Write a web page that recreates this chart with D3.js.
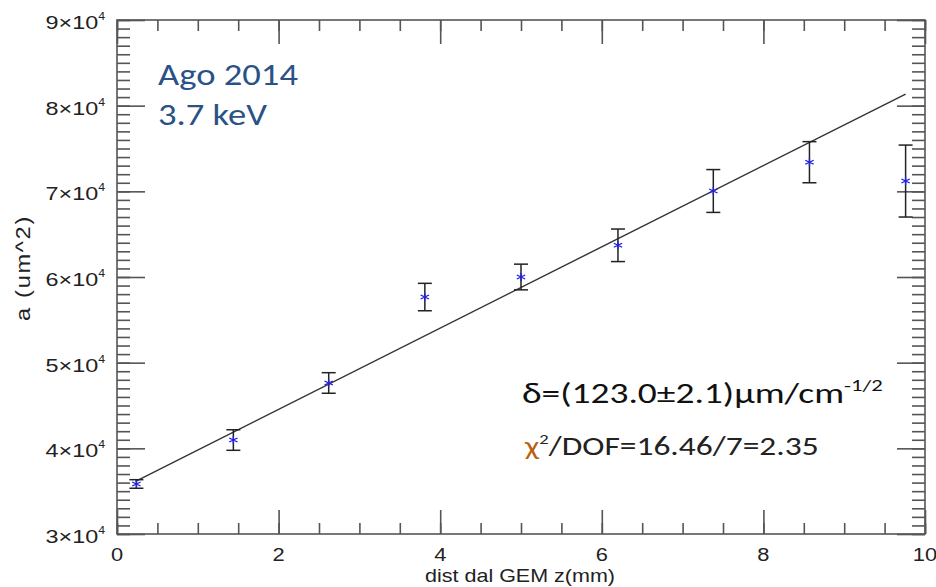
<!DOCTYPE html>
<html>
<head>
<meta charset="utf-8">
<script src="https://cdn.jsdelivr.net/npm/d3@7"></script>
<style>
body { margin: 0; background: #fff; }
</style>
</head>
<body>
<div id="chart"></div>
<script>
var W = 936, H = 587;
var margin = {left: 117, right: 11, top: 20, bottom: 53};

// data
var distZ = [0.24, 1.44, 2.62, 3.81, 5.0, 6.2, 7.38, 8.57, 9.76];
var aVal = [35840, 40970, 47630, 57660, 60000, 63700, 70040, 73400, 71200];
var aErr = [500, 1200, 1200, 1600, 1500, 1900, 2500, 2400, 4200];

// fitted line end points
var fitX = [0.23, 9.76];
var fitY = [36150, 81360];

var xTicks = [0, 2, 4, 6, 8, 10];
var yTicks = [3, 4, 5, 6, 7, 8, 9];

var svg = d3.select("#chart").append("svg")
	.attr("width", W)
	.attr("height", H);

var x = d3.scaleLinear().domain([0, 10]).range([margin.left, W - margin.right]);
var y = d3.scaleLinear().domain([30000, 90000]).range([H - margin.bottom, margin.top]);

var axisCol = "#555";

function styleAxis(g) {
	g.select(".domain").remove();
	g.selectAll("line").attr("stroke", axisCol).attr("stroke-width", 1.6);
	g.selectAll("text").remove();
}

// the picture is stretched sideways, so squeeze/stretch each text to the measured width
function place(t, px, py, w, rot, sy) {
	var bw = t.node().getBBox().width;
	var sx = w / bw;
	t.attr("transform", "translate(" + px + "," + py + ")" + (rot ? " rotate(" + rot + ")" : "") +
		" scale(" + sx + "," + (sy || 1) + ")");
}

// minor + major ticks on all four sides, pointing inward
var xMinor = d3.range(0, 10.01, 0.5);
var yMinor = d3.range(30000, 90001, 1000);
var yMajor = yTicks.map(function (d) { return d * 10000; });

svg.append("g").attr("transform", "translate(0," + y.range()[0] + ")")
	.call(d3.axisBottom(x).tickValues(xMinor).tickSize(-11)).call(styleAxis);
svg.append("g").attr("transform", "translate(0," + y.range()[0] + ")")
	.call(d3.axisBottom(x).tickValues(xTicks).tickSize(-24)).call(styleAxis);
svg.append("g").attr("transform", "translate(0," + y.range()[1] + ")")
	.call(d3.axisTop(x).tickValues(xMinor).tickSize(-11)).call(styleAxis);
svg.append("g").attr("transform", "translate(0," + y.range()[1] + ")")
	.call(d3.axisTop(x).tickValues(xTicks).tickSize(-24)).call(styleAxis);

svg.append("g").attr("transform", "translate(" + x.range()[0] + ",0)")
	.call(d3.axisLeft(y).tickValues(yMinor).tickSize(-13)).call(styleAxis);
svg.append("g").attr("transform", "translate(" + x.range()[0] + ",0)")
	.call(d3.axisLeft(y).tickValues(yMajor).tickSize(-28)).call(styleAxis);
svg.append("g").attr("transform", "translate(" + x.range()[1] + ",0)")
	.call(d3.axisRight(y).tickValues(yMinor).tickSize(-13)).call(styleAxis);
svg.append("g").attr("transform", "translate(" + x.range()[1] + ",0)")
	.call(d3.axisRight(y).tickValues(yMajor).tickSize(-28)).call(styleAxis);

// frame
svg.append("rect")
	.attr("x", x.range()[0]).attr("y", y.range()[1])
	.attr("width", x.range()[1] - x.range()[0])
	.attr("height", y.range()[0] - y.range()[1])
	.attr("fill", "none").attr("stroke", axisCol).attr("stroke-width", 1.6);

// tick labels
var tickFont = "'Liberation Sans', Arial, sans-serif";
svg.selectAll(".xlab").data(xTicks).enter().append("text")
	.attr("text-anchor", "middle")
	.style("font-family", tickFont).style("font-size", "19px").style("fill", "#222")
	.text(function (d) { return d; })
	.attr("transform", function (d) { return "translate(" + x(d) + "," + (H - margin.bottom + 27) + ") scale(1.15,1)"; });

svg.selectAll(".ylab").data(yTicks).enter().append("text")
	.attr("text-anchor", "end")
	.style("font-family", tickFont).style("font-size", "19px").style("fill", "#222")
	.each(function (d) {
		var t = d3.select(this);
		t.append("tspan").text(d + "\u00d710");
		t.append("tspan").attr("dy", -9).style("font-size", "10px").text("4");
		place(t, 105, y(d * 10000) + 9, 60);
	});

var xt = svg.append("text")
	.attr("text-anchor", "middle")
	.style("font-family", tickFont).style("font-size", "18px").style("fill", "#222")
	.text("dist dal GEM z(mm)");
place(xt, 520, 582, 190);

var yt = svg.append("text")
	.attr("text-anchor", "middle")
	.style("font-family", tickFont).style("font-size", "17px").style("fill", "#222")
	.style("letter-spacing", "1.2px")
	.text("a (um^2)");
place(yt, 30, 268, 106, -90, 1.2);

// fit line
svg.append("line")
	.attr("x1", x(fitX[0])).attr("y1", y(fitY[0]))
	.attr("x2", x(fitX[1])).attr("y2", y(fitY[1]))
	.attr("stroke", "#333").attr("stroke-width", 1.4);

// error bars
var pts = distZ.map(function (d, i) { return {x: d, y: aVal[i], e: aErr[i]}; });
var eb = svg.selectAll(".eb").data(pts).enter().append("g")
	.attr("stroke", "#222").attr("stroke-width", 1.5);
eb.append("line")
	.attr("x1", function (d) { return x(d.x); }).attr("x2", function (d) { return x(d.x); })
	.attr("y1", function (d) { return y(d.y - d.e); }).attr("y2", function (d) { return y(d.y + d.e); });
eb.append("line")
	.attr("x1", function (d) { return x(d.x) - 7; }).attr("x2", function (d) { return x(d.x) + 7; })
	.attr("y1", function (d) { return y(d.y - d.e); }).attr("y2", function (d) { return y(d.y - d.e); });
eb.append("line")
	.attr("x1", function (d) { return x(d.x) - 7; }).attr("x2", function (d) { return x(d.x) + 7; })
	.attr("y1", function (d) { return y(d.y + d.e); }).attr("y2", function (d) { return y(d.y + d.e); });

// blue asterisks
var star = d3.symbol().type(d3.symbolAsterisk).size(45);
svg.selectAll(".pt").data(pts).enter().append("path")
	.attr("d", star)
	.attr("transform", function (d) { return "translate(" + x(d.x) + "," + y(d.y) + ") scale(1.2,1)"; })
	.attr("fill", "none").attr("stroke", "#2020e0").attr("stroke-width", 1.1);

// annotations
var noteFont = "Carlito, Lato, 'Open Sans', sans-serif";
var a1 = svg.append("text")
	.style("font-family", noteFont).style("font-size", "30px").style("fill", "#2a5286")
	.text("Ago 2014");
place(a1, 158, 85, 140);
var a2 = svg.append("text")
	.style("font-family", noteFont).style("font-size", "30px").style("fill", "#2a5286")
	.text("3.7 keV");
place(a2, 158, 125, 109);

var d1 = svg.append("text")
	.style("font-family", noteFont).style("font-size", "28px").style("fill", "#111");
d1.append("tspan").text("\u03b4=(123.0\u00b12.1)\u03bcm/cm");
d1.append("tspan").attr("dy", -12).style("font-size", "17px").text("-1/2");
place(d1, 522, 403, 361);

var c1 = svg.append("text")
	.style("font-family", noteFont).style("font-size", "27px").style("fill", "#222");
c1.append("tspan").style("fill", "#b8600f").text("\u03c7");
c1.append("tspan").attr("dy", -11).style("font-size", "15px").text("2");
c1.append("tspan").attr("dy", 11).text("/DOF=16.46/7=2.35");
place(c1, 525, 455, 295);
</script>
</body>
</html>
